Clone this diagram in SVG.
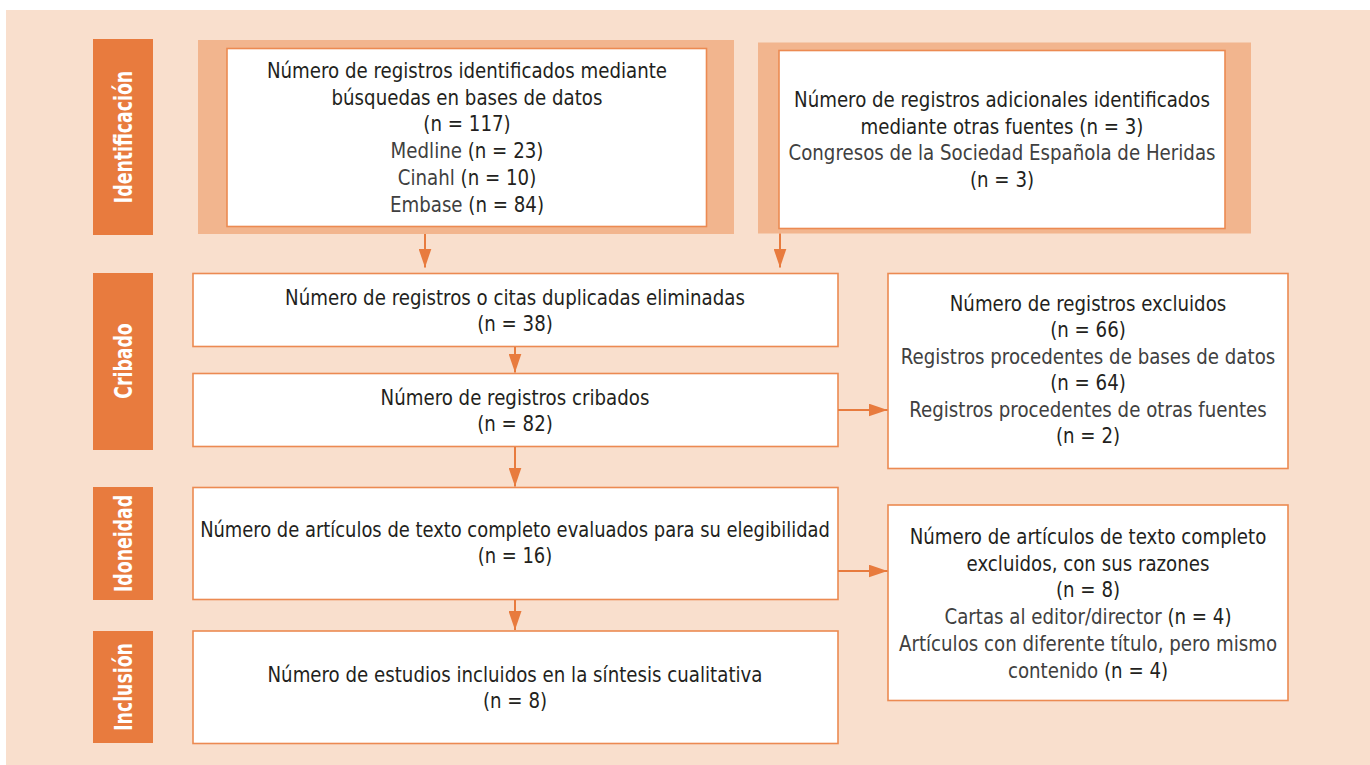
<svg xmlns="http://www.w3.org/2000/svg" width="1370" height="765" viewBox="0 0 1370 765">
<defs>
<marker id="ah" markerUnits="userSpaceOnUse" markerWidth="19" markerHeight="13" refX="19" refY="6.5" orient="auto">
<path d="M0,0 L19,6.5 L0,13 z" fill="#e87b3e"/>
</marker>
<style>
.bg{fill:#f9dfcd}
.side{fill:#e87b3e}
.outer{fill:#f2b58e}
.box{fill:#ffffff;stroke:#ec8a52;stroke-width:1.6}
.lbl{font-family:"DejaVu Sans Condensed","Liberation Sans Narrow","Liberation Sans",sans-serif;font-weight:bold;font-size:25px;fill:#ffffff;text-anchor:middle}
.t{font-family:"DejaVu Sans Condensed","Liberation Sans Narrow","Liberation Sans",sans-serif;font-size:22px;fill:#231f20;text-anchor:middle}
.l{fill:#404040}
.conn{stroke:#e87b3e;stroke-width:2;fill:none;marker-end:url(#ah)}
</style>
</defs>
<rect class="bg" x="6" y="10" width="1364" height="755"/>

<g id="label-identificacion"><rect class="side" x="93" y="39" width="60" height="196"/><text class="lbl" transform="translate(132,137) rotate(-90) scale(0.77,1)">Identificación</text></g>
<g id="label-cribado"><rect class="side" x="93" y="273" width="60" height="177"/><text class="lbl" transform="translate(132,361) rotate(-90) scale(0.77,1)">Cribado</text></g>
<g id="label-idoneidad"><rect class="side" x="93" y="487" width="60" height="113"/><text class="lbl" transform="translate(132,543.5) rotate(-90) scale(0.77,1)">Idoneidad</text></g>
<g id="label-inclusion"><rect class="side" x="93" y="631" width="60" height="112"/><text class="lbl" transform="translate(132,687) rotate(-90) scale(0.77,1)">Inclusión</text></g>

<g id="node-bases-datos">
<rect class="outer" x="198" y="40" width="536" height="194"/>
<rect class="box" x="227" y="48.5" width="479.5" height="178"/>
<g class="t" transform="translate(467,0) scale(0.92,1)">
<text x="0" y="78">Número de registros identificados mediante</text>
<text x="0" y="105">búsquedas en bases de datos</text>
<text x="0" y="131.5">(n = 117)</text>
<text x="0" y="158"><tspan class="l">Medline</tspan> (n = 23)</text>
<text x="0" y="185"><tspan class="l">Cinahl</tspan> (n = 10)</text>
<text x="0" y="212"><tspan class="l">Embase</tspan> (n = 84)</text>
</g>
</g>

<g id="node-otras-fuentes">
<rect class="outer" x="758" y="42.5" width="493" height="191"/>
<rect class="box" x="779" y="50.5" width="446" height="178"/>
<g class="t" transform="translate(1002,0) scale(0.92,1)">
<text x="0" y="107">Número de registros adicionales identificados</text>
<text x="0" y="134">mediante otras fuentes (n = 3)</text>
<text class="l" x="0" y="160.5">Congresos de la Sociedad Española de Heridas</text>
<text x="0" y="187">(n = 3)</text>
</g>
</g>

<g id="node-duplicados">
<rect class="box" x="193" y="273.5" width="645" height="73"/>
<g class="t" transform="translate(515,0) scale(0.92,1)">
<text x="0" y="305">Número de registros o citas duplicadas eliminadas</text>
<text x="0" y="331.5">(n = 38)</text>
</g>
</g>

<g id="node-cribados">
<rect class="box" x="193" y="373.5" width="645" height="73"/>
<g class="t" transform="translate(515,0) scale(0.92,1)">
<text x="0" y="405">Número de registros cribados</text>
<text x="0" y="431.5">(n = 82)</text>
</g>
</g>

<g id="node-excluidos">
<rect class="box" x="888" y="273.5" width="400" height="195"/>
<g class="t" transform="translate(1088,0) scale(0.92,1)">
<text x="0" y="311">Número de registros excluidos</text>
<text x="0" y="337.5">(n = 66)</text>
<text class="l" x="0" y="364">Registros procedentes de bases de datos</text>
<text x="0" y="390.5">(n = 64)</text>
<text class="l" x="0" y="417">Registros procedentes de otras fuentes</text>
<text x="0" y="443.5">(n = 2)</text>
</g>
</g>

<g id="node-texto-completo">
<rect class="box" x="193" y="487.5" width="645" height="112"/>
<g class="t" transform="translate(515,0) scale(0.905,1)">
<text x="0" y="537.5">Número de artículos de texto completo evaluados para su elegibilidad</text>
<text x="0" y="563.5">(n = 16)</text>
</g>
</g>

<g id="node-incluidos">
<rect class="box" x="193" y="631" width="645" height="112.5"/>
<g class="t" transform="translate(515,0) scale(0.92,1)">
<text x="0" y="682">Número de estudios incluidos en la síntesis cualitativa</text>
<text x="0" y="708.5">(n = 8)</text>
</g>
</g>

<g id="node-excluidos-texto">
<rect class="box" x="888" y="505" width="400" height="195.5"/>
<g class="t" transform="translate(1088,0) scale(0.92,1)">
<text x="0" y="544">Número de artículos de texto completo</text>
<text x="0" y="571">excluidos, con sus razones</text>
<text x="0" y="597.5">(n = 8)</text>
<text x="0" y="624.5"><tspan class="l">Cartas al editor/director</tspan> (n = 4)</text>
<text class="l" x="0" y="651.5">Artículos con diferente título, pero mismo</text>
<text x="0" y="678"><tspan class="l">contenido</tspan> (n = 4)</text>
</g>
</g>

<g id="connectors">
<line class="conn" x1="425" y1="234" x2="425" y2="267.5"/>
<line class="conn" x1="780" y1="233.5" x2="780" y2="267.5"/>
<line class="conn" x1="515" y1="347" x2="515" y2="372.5"/>
<line class="conn" x1="515" y1="447" x2="515" y2="486.5"/>
<line class="conn" x1="515" y1="600" x2="515" y2="630"/>
<line class="conn" x1="838" y1="410" x2="887.5" y2="410"/>
<line class="conn" x1="838" y1="571" x2="887.5" y2="571"/>
</g>
</svg>
